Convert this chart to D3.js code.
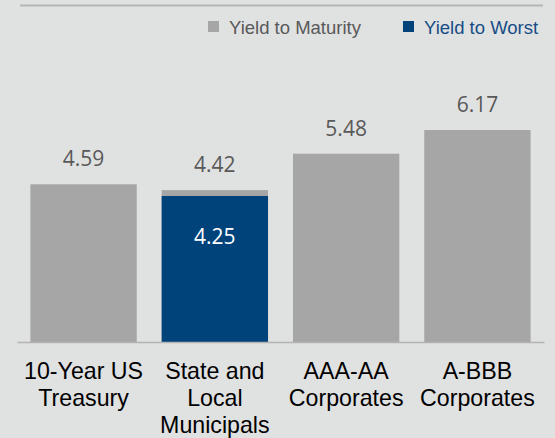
<!DOCTYPE html>
<html>
<head>
<meta charset="utf-8">
<script src="https://cdn.jsdelivr.net/npm/d3@7"></script>
<style>
  html, body { margin: 0; padding: 0; background: #e0e1e1; }
  svg { display: block; }
</style>
</head>
<body>
<script>
// Yields by sector (percent)
const categories = ["10-Year US Treasury", "State and Local Municipals", "AAA-AA Corporates", "A-BBB Corporates"];
const categoryLines = [["10-Year US", "Treasury"], ["State and", "Local", "Municipals"], ["AAA-AA", "Corporates"], ["A-BBB", "Corporates"]];
const yieldToMaturity = [4.59, 4.42, 5.48, 6.17];
const yieldToWorst = [null, 4.25, null, null];
const legendLabels = ["Yield to Maturity", "Yield to Worst"];

const W = 555, H = 438;
const colGrey = "#a6a6a6", colBlue = "#00437b";

const svg = d3.select("body").append("svg").attr("width", W).attr("height", H);
svg.append("rect").attr("width", W).attr("height", H).attr("fill", "#e0e1e1");

const x = d3.scaleBand().domain(categories).range([17, 544]).paddingInner(0.19).paddingOuter(0.102);
const y = d3.scaleLinear().domain([0, 7]).range([342, 101.5]);

// top rule
svg.append("line").attr("x1", 20).attr("x2", 543).attr("y1", 5.5).attr("y2", 5.5)
  .attr("stroke", "#b6b6b6").attr("stroke-width", 2);

// legend
const legend = svg.append("g");
const legendItems = [
  { label: legendLabels[0], sq: 208, tx: 229, fill: colGrey, text: "#595959" },
  { label: legendLabels[1], sq: 403, tx: 424, fill: colBlue, text: "#164d86" }
];
legendItems.forEach(d => {
  legend.append("rect").attr("x", d.sq).attr("y", 21).attr("width", 11).attr("height", 11).attr("fill", d.fill);
  legend.append("text").attr("x", d.tx).attr("y", 34).attr("fill", d.text)
    .attr("font-family", "Liberation Sans, Arial, sans-serif").attr("font-size", 18.5).text(d.label);
});

const data = categories.map((c, i) => ({ c, ytm: yieldToMaturity[i], ytw: yieldToWorst[i], lines: categoryLines[i] }));

// yield to maturity bars
svg.append("g").selectAll("rect").data(data).join("rect")
  .attr("x", d => x(d.c)).attr("width", x.bandwidth())
  .attr("y", d => y(d.ytm)).attr("height", d => y(0) - y(d.ytm))
  .attr("fill", colGrey);

// yield to worst bars (overlaid)
const worst = data.filter(d => d.ytw != null);
svg.append("g").selectAll("rect").data(worst).join("rect")
  .attr("x", d => x(d.c)).attr("width", x.bandwidth())
  .attr("y", d => y(d.ytw)).attr("height", d => y(0) - y(d.ytw))
  .attr("fill", colBlue);

// value labels
svg.append("g").selectAll("text").data(data).join("text")
  .attr("x", d => x(d.c) + x.bandwidth() / 2).attr("y", d => y(d.ytm) - 18)
  .attr("text-anchor", "middle").attr("fill", "#595959")
  .attr("font-family", "Open Sans, sans-serif").attr("font-size", 21)
  .text(d => d.ytm.toFixed(2));

svg.append("g").selectAll("text").data(worst).join("text")
  .attr("x", d => x(d.c) + x.bandwidth() / 2).attr("y", d => y(d.ytw) + 48)
  .attr("text-anchor", "middle").attr("fill", "#ffffff")
  .attr("font-family", "Open Sans, sans-serif").attr("font-size", 21)
  .text(d => d.ytw.toFixed(2));

// baseline axis
const xAxis = d3.axisBottom(x).tickSize(0).tickFormat("");
const ax = svg.append("g").attr("transform", `translate(0,${y(0)})`).call(xAxis);
ax.select(".domain").attr("stroke", "#b3b3b3").attr("stroke-width", 1.5);

// category labels
const cat = svg.append("g").selectAll("text").data(data).join("text")
  .attr("text-anchor", "middle").attr("fill", "#000")
  .attr("font-family", "Liberation Sans, Arial, sans-serif").attr("font-size", 23.2);
cat.each(function (d) {
  const t = d3.select(this);
  d.lines.forEach((l, j) => {
    t.append("tspan").attr("x", x(d.c) + x.bandwidth() / 2).attr("y", 379 + j * 27).text(l);
  });
});
</script>
</body>
</html>
